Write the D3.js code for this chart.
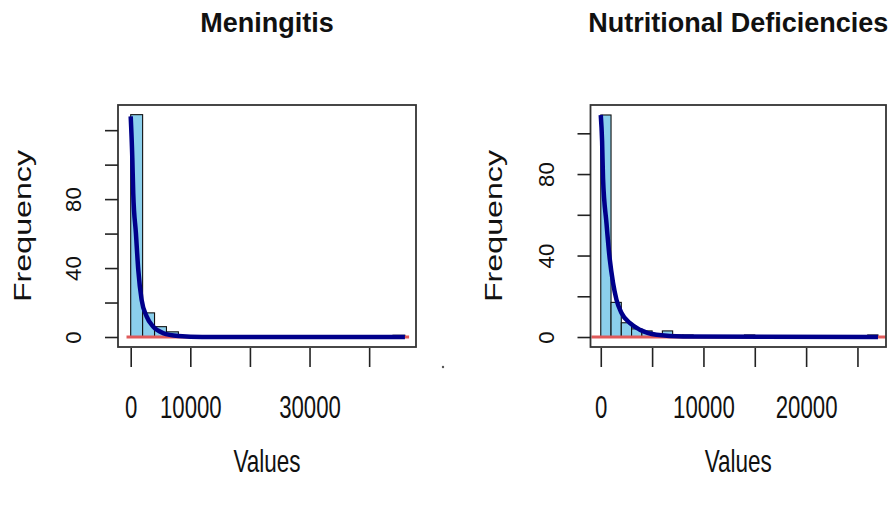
<!DOCTYPE html>
<html>
<head>
<meta charset="utf-8">
<script src="https://cdn.jsdelivr.net/npm/d3@7"></script>
<style>
  body { margin: 0; background: #fff; }
  svg { display: block; }
  text { font-family: "Liberation Sans", Arial, sans-serif; }
</style>
</head>
<body>
<div id="chart"></div>
<script>
// Meningitis: histogram bins of 2000
const menBinStarts = [0, 2000, 4000, 6000, 44000];
const menCounts = [129, 14, 6, 3, 1];
const menCurveX = [0, 270, 430, 880, 1270, 1830, 2670, 3770, 5430, 8000, 12000, 46000];
const menCurveY = [128, 104, 83, 60, 39, 21.6, 12, 6, 2.3, 0.6, 0, 0];
const menDensX = [-700, 46700];
const menXTicks = [0, 10000, 20000, 30000, 40000];
const menXLabels = ['0', '10000', '', '30000', ''];
const menYTicks = [0, 20, 40, 60, 80, 100, 120];
const menYLabels = ['0', '', '40', '', '80', '', ''];

// Nutritional Deficiencies: histogram bins of 1000
const nutBinStarts = [0, 1000, 2000, 3000, 4000, 5000, 6000, 7000, 8000, 14000, 26000];
const nutCounts = [109, 17, 7, 4, 3, 1, 3, 1, 1, 1, 1];
const nutCurveX = [0, 130, 220, 555, 880, 1200, 1530, 2020, 2820, 3800, 5420, 8000, 27000];
const nutCurveY = [109, 96, 78, 56, 38, 26.5, 18.3, 11.8, 6.9, 3.6, 1.1, 0.2, 0];
const nutDensX = [-900, 28500];
const nutXTicks = [0, 5000, 10000, 15000, 20000, 25000];
const nutXLabels = ['0', '', '10000', '', '20000', ''];
const nutYTicks = [0, 20, 40, 60, 80, 100];
const nutYLabels = ['0', '', '40', '', '80', ''];

const width = 896;
const height = 506;
const stretch = 1.4;

const svg = d3.select('#chart')
  .append('svg')
  .attr('width', width)
  .attr('height', height);

const drawPanel = (id, {
  title, left, right, top, bottom, xDomain, yDomain, binWidth,
  binStarts, counts, curveX, curveY, densX,
  xTicks, xLabels, yTicks, yLabels, freqX
}) => {
  const x = d3.scaleLinear().domain(xDomain).range([left, right]);
  const y = d3.scaleLinear().domain(yDomain).range([bottom, top]);
  const cx = (left + right) / 2;
  const cy = (top + bottom) / 2;

  svg.append('clipPath')
    .attr('id', id)
    .append('rect')
    .attr('x', left)
    .attr('y', top)
    .attr('width', right - left)
    .attr('height', bottom - top);

  const plot = svg.append('g').attr('clip-path', `url(#${id})`);

  plot.selectAll('.bar')
    .data(binStarts.map((x0, i) => ({ x0, count: counts[i] })))
    .enter()
    .append('rect')
    .attr('class', 'bar')
    .attr('x', d => x(d.x0))
    .attr('y', d => y(d.count))
    .attr('width', d => x(d.x0 + binWidth) - x(d.x0))
    .attr('height', d => y(0) - y(d.count))
    .attr('fill', '#8bcfec')
    .attr('stroke', '#111')
    .attr('stroke-width', 1.1);

  plot.append('path')
    .datum(densX)
    .attr('d', d3.line().x(d => x(d)).y(() => y(0)))
    .attr('fill', 'none')
    .attr('stroke', '#e05a5a')
    .attr('stroke-width', 3);

  plot.append('path')
    .datum(curveX.map((v, i) => [v, curveY[i]]))
    .attr('d', d3.line().x(d => x(d[0])).y(d => y(d[1])).curve(d3.curveMonotoneX))
    .attr('fill', 'none')
    .attr('stroke', '#00008b')
    .attr('stroke-width', 4.5);

  svg.append('rect')
    .attr('x', left)
    .attr('y', top)
    .attr('width', right - left)
    .attr('height', bottom - top)
    .attr('fill', 'none')
    .attr('stroke', '#333')
    .attr('stroke-width', 1.8);

  const xAxis = d3.axisBottom(x)
    .tickValues(xTicks)
    .tickFormat((d, i) => xLabels[i])
    .tickSize(19);

  const gx = svg.append('g')
    .attr('transform', `translate(0,${bottom + 1})`)
    .call(xAxis);
  gx.select('.domain').remove();
  gx.selectAll('line').attr('stroke', '#222').attr('stroke-width', 1.6);
  gx.selectAll('text')
    .attr('y', null)
    .attr('dy', null)
    .attr('fill', '#111')
    .attr('font-size', 22.2)
    .attr('font-family', '"Liberation Sans", Arial, sans-serif')
    .attr('transform', `translate(0,${418 - bottom - 1}) scale(1,${stretch})`);

  const yAxis = d3.axisLeft(y)
    .tickValues(yTicks)
    .tickFormat((d, i) => yLabels[i])
    .tickSize(13);

  const gy = svg.append('g')
    .attr('transform', `translate(${left},0)`)
    .call(yAxis);
  gy.select('.domain').remove();
  gy.selectAll('line').attr('stroke', '#222').attr('stroke-width', 1.6);
  gy.selectAll('text')
    .attr('x', null)
    .attr('dy', null)
    .attr('text-anchor', 'middle')
    .attr('fill', '#111')
    .attr('font-size', 22.2)
    .attr('font-family', '"Liberation Sans", Arial, sans-serif')
    .attr('transform', 'translate(-37,0) rotate(-90)');

  svg.append('text')
    .attr('x', cx)
    .attr('y', 32)
    .attr('text-anchor', 'middle')
    .attr('font-size', 27)
    .attr('font-weight', 'bold')
    .attr('fill', '#111')
    .text(title);

  svg.append('text')
    .attr('transform', `translate(${cx},472) scale(1,${stretch})`)
    .attr('text-anchor', 'middle')
    .attr('font-size', 22.5)
    .attr('fill', '#111')
    .text('Values');

  svg.append('text')
    .attr('transform', `translate(${freqX},${cy}) scale(1,${stretch}) rotate(-90)`)
    .attr('text-anchor', 'middle')
    .attr('font-size', 23)
    .attr('fill', '#111')
    .text('Frequency');
};

drawPanel('clipMen', {
  title: 'Meningitis',
  left: 118, right: 416, top: 105, bottom: 347,
  xDomain: [-2130, 47860], yDomain: [-5.8, 134.6], binWidth: 2000,
  binStarts: menBinStarts, counts: menCounts,
  curveX: menCurveX, curveY: menCurveY, densX: menDensX,
  xTicks: menXTicks, xLabels: menXLabels,
  yTicks: menYTicks, yLabels: menYLabels,
  freqX: 31
});

drawPanel('clipNut', {
  title: 'Nutritional Deficiencies',
  left: 590.5, right: 886, top: 105, bottom: 347,
  xDomain: [-1000, 27780], yDomain: [-4.9, 113.9], binWidth: 1000,
  binStarts: nutBinStarts, counts: nutCounts,
  curveX: nutCurveX, curveY: nutCurveY, densX: nutDensX,
  xTicks: nutXTicks, xLabels: nutXLabels,
  yTicks: nutYTicks, yLabels: nutYLabels,
  freqX: 502
});

svg.append('circle')
  .attr('cx', 443)
  .attr('cy', 367)
  .attr('r', 1.2)
  .attr('fill', '#555');
</script>
</body>
</html>
